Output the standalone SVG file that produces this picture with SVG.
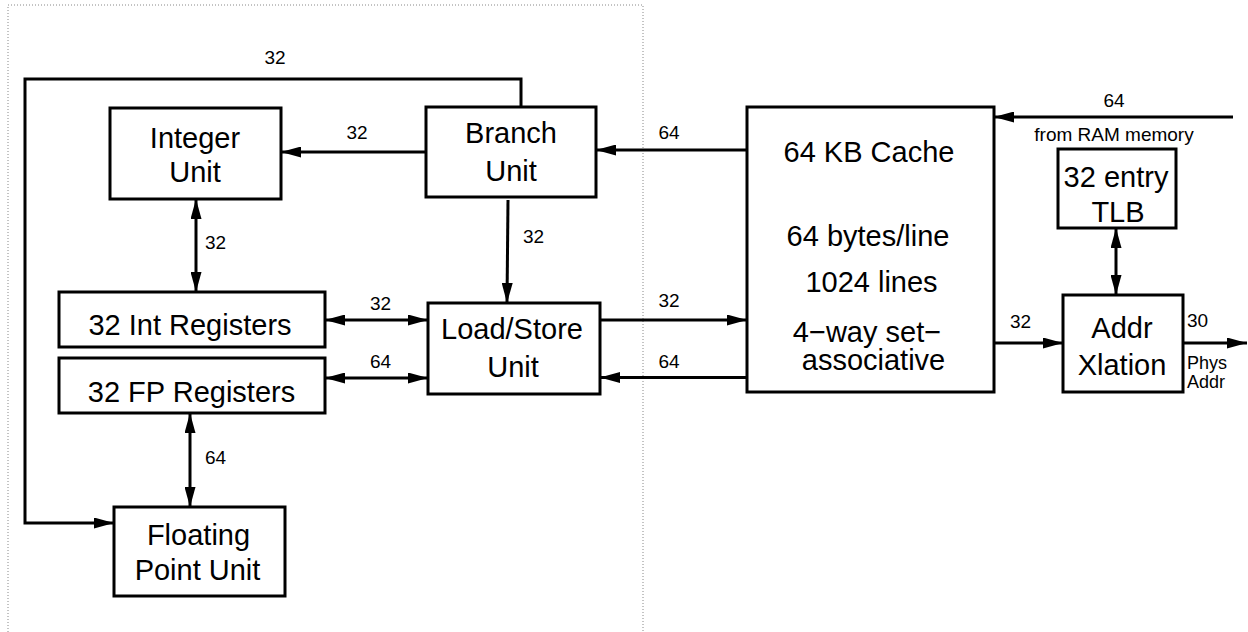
<svg xmlns="http://www.w3.org/2000/svg" width="1248" height="632" viewBox="0 0 1248 632">
<style>
.box{fill:#fff;stroke:#000;stroke-width:3}
.t{font-family:"Liberation Sans",Arial,sans-serif;font-size:29px;text-anchor:middle;fill:#000}
.l{font-family:"Liberation Sans",Arial,sans-serif;font-size:19px;text-anchor:middle;fill:#000}
.s{font-family:"Liberation Sans",Arial,sans-serif;font-size:18px;fill:#000}
.c{fill:none;stroke:#000;stroke-width:3}
</style>
<defs>
<marker id="ah" markerUnits="userSpaceOnUse" markerWidth="20" markerHeight="11" refX="20" refY="5.5" orient="auto-start-reverse" viewBox="0 0 20 11">
<path d="M0,0 L20,5.5 L0,11 z" fill="#000"/>
</marker>
</defs>
<rect width="1248" height="632" fill="#fff"/>
<rect x="8" y="5" width="635" height="640" fill="none" stroke="#888" stroke-width="1" stroke-dasharray="1,2"/>
<g id="connectors">
<path class="c" d="M521,107 V79 H25 V523 H114" marker-end="url(#ah)"/>
<path class="c" d="M426,152 H281" marker-end="url(#ah)"/>
<path class="c" d="M196,199 V292" marker-start="url(#ah)" marker-end="url(#ah)"/>
<path class="c" d="M508,200 L507,303" marker-end="url(#ah)"/>
<path class="c" d="M325,320 H428" marker-start="url(#ah)" marker-end="url(#ah)"/>
<path class="c" d="M325,378 H428" marker-start="url(#ah)" marker-end="url(#ah)"/>
<path class="c" d="M190,413 V507" marker-start="url(#ah)" marker-end="url(#ah)"/>
<path class="c" d="M747,150 H596" marker-end="url(#ah)"/>
<path class="c" d="M600,320 H747" marker-end="url(#ah)"/>
<path class="c" d="M749,377.5 H600" marker-end="url(#ah)"/>
<path class="c" d="M1233,117 H994" marker-end="url(#ah)"/>
<path class="c" d="M1116,228 V295" marker-start="url(#ah)" marker-end="url(#ah)"/>
<path class="c" d="M994,343 H1063" marker-end="url(#ah)"/>
<path class="c" d="M1183,343 H1247" marker-end="url(#ah)"/>
<text class="l" x="275" y="64">32</text>
<text class="l" x="357" y="139">32</text>
<text class="l" x="215.5" y="249">32</text>
<text class="l" x="533.5" y="243">32</text>
<text class="l" x="380.5" y="310">32</text>
<text class="l" x="380.5" y="368">64</text>
<text class="l" x="215.5" y="464">64</text>
<text class="l" x="669" y="139">64</text>
<text class="l" x="669" y="307">32</text>
<text class="l" x="669" y="368">64</text>
<text class="l" x="1114" y="107">64</text>
<text class="l" x="1114" y="141">from RAM memory</text>
<text class="l" x="1020.5" y="328">32</text>
<text class="l" x="1187" y="327" style="text-anchor:start">30</text>
<text class="s" x="1187" y="369">Phys</text>
<text class="s" x="1187" y="388">Addr</text>
</g>
<g id="integer-unit">
<rect class="box" x="110" y="108" width="171" height="91"/>
<text class="t" x="195" y="148">Integer</text>
<text class="t" x="195" y="182">Unit</text>
</g>
<g id="branch-unit">
<rect class="box" x="426" y="107" width="170" height="90"/>
<text class="t" x="511" y="143">Branch</text>
<text class="t" x="511" y="181">Unit</text>
</g>
<g id="int-registers">
<rect class="box" x="59" y="292" width="266" height="55"/>
<text class="t" x="190" y="335">32 Int Registers</text>
</g>
<g id="fp-registers">
<rect class="box" x="59" y="358" width="266" height="55"/>
<text class="t" x="191.5" y="401.5">32 FP Registers</text>
</g>
<g id="load-store-unit">
<rect class="box" x="428" y="303" width="172" height="91"/>
<text class="t" x="512" y="339">Load/Store</text>
<text class="t" x="513" y="377">Unit</text>
</g>
<g id="floating-point-unit">
<rect class="box" x="114" y="507" width="171" height="89"/>
<text class="t" x="198.5" y="545">Floating</text>
<text class="t" x="197.5" y="580">Point Unit</text>
</g>
<g id="cache">
<rect class="box" x="747" y="107" width="247" height="285"/>
<text class="t" x="869" y="162">64 KB Cache</text>
<text class="t" x="868" y="246">64 bytes/line</text>
<text class="t" x="871.5" y="292">1024 lines</text>
<text class="t" x="867" y="342">4−way set−</text>
<text class="t" x="873.5" y="370">associative</text>
</g>
<g id="tlb">
<rect class="box" x="1058" y="149" width="118" height="79"/>
<text class="t" x="1116" y="187">32 entry</text>
<text class="t" x="1118" y="222">TLB</text>
</g>
<g id="addr-xlation">
<rect class="box" x="1063" y="295" width="120" height="97"/>
<text class="t" x="1122" y="338">Addr</text>
<text class="t" x="1122" y="375">Xlation</text>
</g>
</svg>
